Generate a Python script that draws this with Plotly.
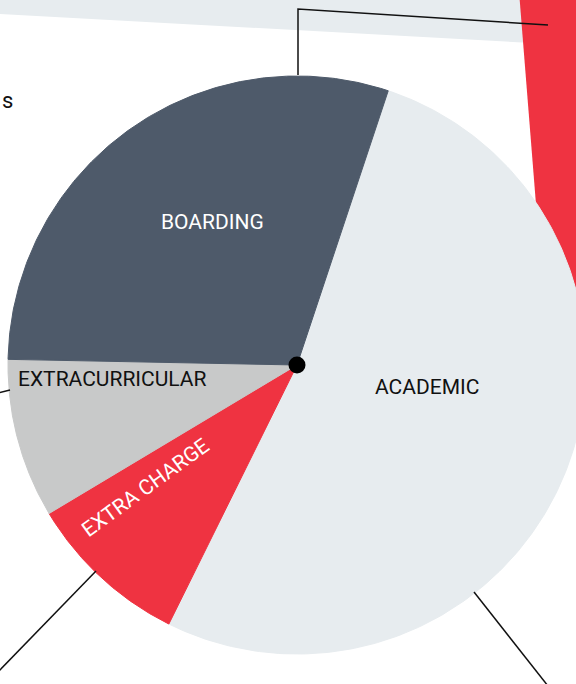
import numpy as np
import plotly.graph_objects as go

# ---- data ----
labels = ["ACADEMIC", "EXTRA CHARGE", "EXTRACURRICULAR", "BOARDING"]
values = [52.2, 9.1, 8.9, 29.8]
colors = ["#e7ecef", "#ef3341", "#c8c9c9", "#4e5a6a"]
text_colors = ["#111111", "#ffffff", "#111111", "#ffffff"]

# ---- layout constants (pixels) ----
W, H = 576, 684
CX, CY, R = 297, 365, 289
START_DEG = 18.4  # clockwise from 12 o'clock where first slice begins

fig = go.Figure()

vals = np.array(values, dtype=float)
frac = vals / vals.sum()
edges = START_DEG + 360 * np.concatenate([[0], np.cumsum(frac)])

for i, lab in enumerate(labels):
    th = np.radians(np.linspace(edges[i], edges[i + 1], 200))
    xs = np.concatenate([[CX], CX + R * np.sin(th), [CX]])
    ys = np.concatenate([[CY], CY - R * np.cos(th), [CY]])
    fig.add_trace(go.Scatter(x=xs, y=ys, mode="lines", fill="toself",
                             fillcolor=colors[i],
                             line=dict(color=colors[i], width=1),
                             name=lab, hoverinfo="name", showlegend=False))

# center dot
fig.add_trace(go.Scatter(x=[CX], y=[CY], mode="markers",
                         marker=dict(color="black", size=17),
                         hoverinfo="skip", showlegend=False))

FONT = "Roboto, Arial"

label_pos = {
    "ACADEMIC": (427, 387, 0),
    "EXTRA CHARGE": (145, 488, -36),
    "EXTRACURRICULAR": (112, 379, 0),
    "BOARDING": (212, 222, 0),
}
annotations = []
for lab, tc in zip(labels, text_colors):
    x, y, ang = label_pos[lab]
    annotations.append(dict(x=x, y=y, xref="x", yref="y", text=lab,
                            showarrow=False, textangle=ang,
                            font=dict(family=FONT, size=21, color=tc)))
annotations.append(dict(x=0, y=100, xref="x", yref="y", text="s",
                        showarrow=False, xanchor="left",
                        font=dict(family=FONT, size=22, color="#111111")))

shapes = [
    # grey band at top
    dict(type="path", layer="below", line=dict(width=0), fillcolor="#e7ecef",
         path="M -5 -5 L 560 -5 L 560 44.5 L -5 13.7 Z", xref="x", yref="y"),
    # red band on the right (mostly behind the pie)
    dict(type="path", layer="below", line=dict(width=0), fillcolor="#ef3341",
         path="M 519.3 -5 L 620 -5 L 620 380 L 550 380 Z", xref="x", yref="y"),
    # callout lines
    dict(type="path", layer="above", line=dict(color="#111111", width=1.5),
         path="M 298 75 L 298 9 L 548 25", xref="x", yref="y"),
    dict(type="line", layer="above", line=dict(color="#111111", width=1.5),
         x0=-2, y0=393, x1=10, y1=390, xref="x", yref="y"),
    dict(type="line", layer="above", line=dict(color="#111111", width=1.5),
         x0=96, y0=571, x1=-2, y1=672, xref="x", yref="y"),
    dict(type="line", layer="above", line=dict(color="#111111", width=1.5),
         x0=474, y0=592, x1=548, y1=686, xref="x", yref="y"),
]

fig.update_layout(
    width=W, height=H,
    margin=dict(l=0, r=0, t=0, b=0),
    paper_bgcolor="white", plot_bgcolor="white",
    xaxis=dict(range=[0, W], visible=False, fixedrange=True),
    yaxis=dict(range=[H, 0], visible=False, fixedrange=True),
    annotations=annotations, shapes=shapes,
)

fig.write_html("out.html", config={"displayModeBar": False},
               post_script="document.body.style.margin='0';"
                           "document.body.style.overflow='hidden';")
